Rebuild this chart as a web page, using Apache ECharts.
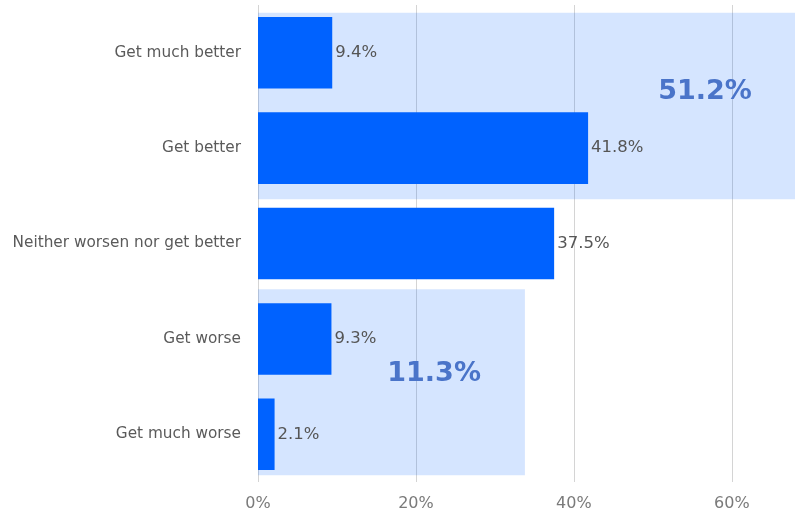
<!DOCTYPE html>
<html>
<head>
<meta charset="utf-8">
<script src="https://cdn.jsdelivr.net/npm/echarts@6/dist/echarts.min.js"></script>
<style>
  html, body { margin: 0; padding: 0; background: #ffffff; }
  #chart { width: 795px; height: 513px; }
</style>
</head>
<body>
<div id="chart"></div>
<script>
// Survey answers, top to bottom
const categories = [
  'Get much better',
  'Get better',
  'Neither worsen nor get better',
  'Get worse',
  'Get much worse'
];
const shares = [9.4, 41.8, 37.5, 9.3, 2.1];

// Grouped totals shown on the shaded panels
const groupFrom = [0, 3];
const groupTo = [1, 4];
const groupTotals = [51.2, 11.3];

// Value-axis ticks
const tickValues = [0, 20, 40, 60];

// Panel geometry (value reach, band offsets, label anchor)
const panelLayout = [
  { reach: 68,   top: -0.42, bottom: 0.535, labelX: 56.6, labelT: 0.41 },
  { reach: 33.8, top: -0.52, bottom: 0.43,  labelX: 22.3, labelT: 0.37 }
];

const FONT = '"DejaVu Sans", sans-serif';

const chart = echarts.init(document.getElementById('chart'), null, { renderer: 'canvas' });

function renderPanel(params, api) {
  const i = params.dataIndex;
  const L = panelLayout[i];
  const band = api.size([0, 1])[1];
  const a = api.coord([0, groupFrom[i]]);
  const b = api.coord([L.reach, groupTo[i]]);
  const y0 = a[1] + L.top * band;
  const y1 = b[1] + L.bottom * band;
  const lx = api.coord([L.labelX, groupFrom[i]])[0];
  const ly = a[1] + (b[1] - a[1]) * L.labelT;
  return {
    type: 'group',
    children: [
      {
        type: 'rect',
        shape: { x: a[0], y: y0, width: b[0] - a[0], height: y1 - y0 },
        style: { fill: 'rgba(0, 98, 255, 0.165)' }
      },
      {
        type: 'text',
        x: lx,
        y: ly,
        style: {
          text: groupTotals[i].toFixed(1) + '%',
          fill: '#4a74c9',
          fontSize: 27,
          fontWeight: 'bold',
          fontFamily: FONT,
          align: 'center',
          verticalAlign: 'middle'
        }
      }
    ]
  };
}

chart.setOption({
  animation: false,
  backgroundColor: '#ffffff',
  grid: { left: 258, right: 0, top: 5, bottom: 31, containLabel: false },
  xAxis: {
    type: 'value',
    min: tickValues[0],
    max: 68,
    interval: tickValues[1] - tickValues[0],
    axisLine: { show: false },
    axisTick: { show: false },
    axisLabel: {
      formatter: function (v) { return tickValues.indexOf(v) >= 0 ? v + '%' : ''; },
      color: '#7a7a7a',
      fontSize: 16,
      fontFamily: FONT,
      margin: 14,
      showMaxLabel: false
    },
    splitLine: {
      show: true,
      showMaxLine: false,
      lineStyle: { color: '#d4d4d4', width: 1 }
    }
  },
  yAxis: {
    type: 'category',
    data: categories,
    inverse: true,
    axisLine: { show: false },
    axisTick: { show: false },
    axisLabel: {
      color: '#5a5a5a',
      fontSize: 15.3,
      fontFamily: FONT,
      margin: 17
    }
  },
  series: [
    {
      type: 'custom',
      z: 1,
      silent: true,
      renderItem: renderPanel,
      encode: { x: 0, y: 1 },
      data: groupTotals.map(function (v, i) { return [0, groupFrom[i]]; })
    },
    {
      type: 'bar',
      z: 2,
      data: shares,
      barCategoryGap: '25%',
      itemStyle: { color: '#0062ff' },
      label: {
        show: true,
        position: 'right',
        distance: 3,
        formatter: function (p) { return p.value.toFixed(1) + '%'; },
        color: '#555555',
        fontSize: 16.5,
        fontFamily: FONT
      }
    }
  ]
});
</script>
</body>
</html>
